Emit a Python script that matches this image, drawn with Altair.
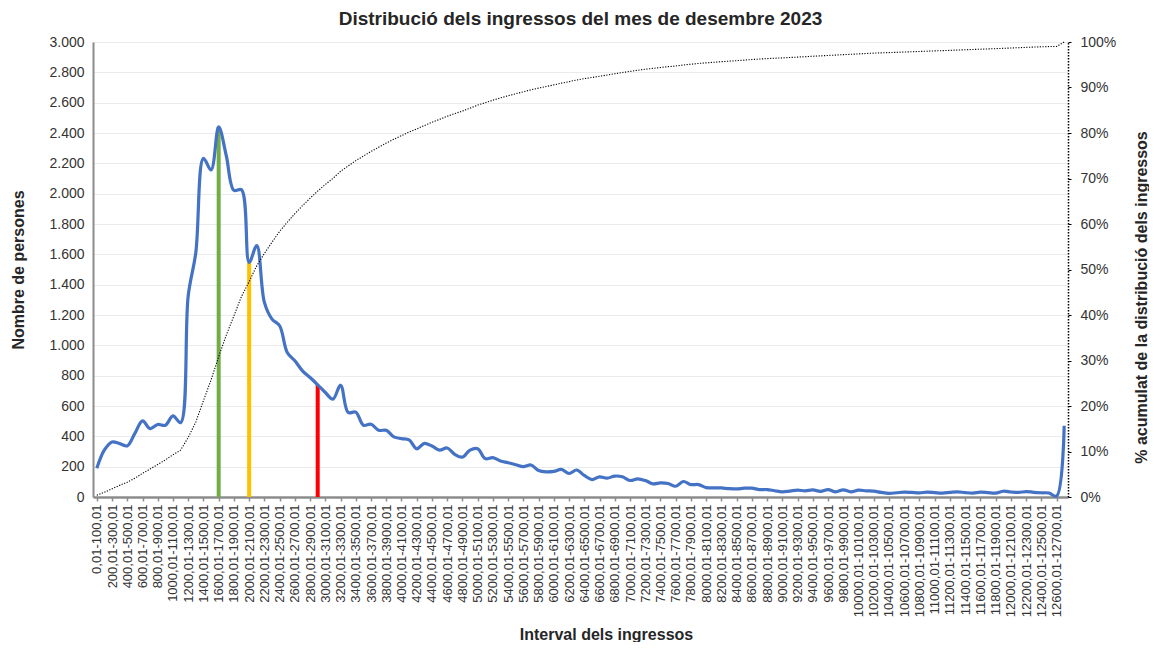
import altair as alt
import pandas as pd

# income intervals (100 € each) plus the open last interval
starts = list(range(0, 12700, 100))
categories = [f"{s},01-{s + 100},01" for s in starts] + ["Més de 12700,01"]

# number of persons per interval
persons = [
    190, 310, 363, 352, 337, 420, 502, 451, 478, 473,
    535, 490, 1327, 1613, 2233, 2156, 2440, 2250, 2022, 2026,
    1547, 1657, 1283, 1173, 1129, 953, 898, 832, 788, 740,
    689, 645, 737, 557, 560, 473, 480, 440, 440, 396,
    385, 376, 318, 354, 336, 309, 323, 281, 263, 309,
    318, 253, 260, 237, 226, 213, 200, 211, 175, 166,
    169, 182, 155, 178, 142, 115, 133, 124, 138, 133,
    109, 120, 109, 87, 93, 89, 71, 102, 82, 82,
    62, 60, 60, 55, 53, 58, 58, 49, 49, 41,
    34, 39, 45, 41, 47, 37, 49, 34, 47, 34,
    45, 41, 39, 30, 24, 28, 32, 30, 27, 32,
    29, 26, 30, 34, 29, 26, 32, 29, 26, 38,
    33, 30, 36, 31, 28, 26, 6, 470,
]

# highlighted intervals (vertical bars)
marker_intervals = ["1600,01-1700,01", "2000,01-2100,01", "2900,01-3000,01"]
marker_colors = ["#70AD47", "#FFC000", "#FF0000"]

title_text = "Distribució dels ingressos del mes de desembre 2023"
y_left_title = "Nombre de persones"
y_right_title = "% acumulat de la distribució  dels ingressos"
x_title = "Interval dels ingressos"

FONT = "Liberation Sans"

df = pd.DataFrame({"interval": categories, "persones": persons, "ordre": list(range(len(categories)))})
lookup = dict(zip(categories, persons))
df_marks = pd.DataFrame({
    "interval": marker_intervals,
    "persones": [lookup[c] for c in marker_intervals],
    "color": marker_colors,
})

x_enc = alt.X(
    "interval:O",
    sort=categories,
    scale=alt.Scale(type="point", domain=categories, padding=0.5),
    axis=alt.Axis(
        values=categories[::2],
        labelAngle=270,
        labelFontSize=13,
        labelColor="#333333",
        labelFont=FONT,
        labelOverlap=False,
        labelPadding=3,
        domainColor="#8C8C8C",
        domainWidth=2.5,
        ticks=True,
        tickColor="#8C8C8C",
        tickSize=4,
        tickWidth=1.5,
        grid=False,
        title=x_title,
        titleFont=FONT,
        titleFontSize=16,
        titleFontWeight="bold",
        titleColor="#262626",
        titleX=513,
        titleY=137,
        titleBaseline="middle",
        titleAlign="center",
    ),
)

y_enc = alt.Y(
    "persones:Q",
    scale=alt.Scale(domain=[0, 3000], nice=False),
    axis=alt.Axis(
        values=list(range(0, 3001, 200)),
        labelExpr="replace(format(datum.value, ','), ',', '.')",
        labelFontSize=14,
        labelColor="#333333",
        labelFont=FONT,
        labelPadding=9,
        ticks=False,
        domainColor="#8C8C8C",
        domainWidth=2,
        grid=True,
        gridColor="#EBEBEB",
        gridWidth=1,
        title=y_left_title,
        titleFont=FONT,
        titleFontSize=16,
        titleFontWeight="bold",
        titleColor="#262626",
        titleAngle=270,
        titleX=-75,
        titleY=227.5,
        titleBaseline="middle",
        titleAlign="center",
    ),
)

rules = alt.Chart(df_marks).mark_rule(strokeWidth=4).encode(
    x=x_enc,
    y=y_enc,
    y2=alt.datum(0),
    color=alt.Color("color:N", scale=None),
)

line = alt.Chart(df).mark_line(color="#4472C4", strokeWidth=3.2, interpolate="catmull-rom").encode(
    x=x_enc,
    y=y_enc,
)

cum = (
    alt.Chart(df)
    .transform_window(acum="sum(persones)", sort=[alt.SortField("ordre")], frame=[None, 0])
    .transform_joinaggregate(total="sum(persones)")
    .transform_calculate(pct="datum.acum / datum.total")
    .mark_line(color="#000000", strokeWidth=1.1, strokeDash=[1.2, 1.5])
    .encode(
        x=x_enc,
        y=alt.Y(
            "pct:Q",
            scale=alt.Scale(domain=[0, 1], nice=False),
            axis=alt.Axis(
                orient="right",
                values=[i / 10 for i in range(11)],
                format=".0%",
                labelFontSize=14,
                labelColor="#333333",
                labelFont=FONT,
                labelPadding=9,
                ticks=True,
                tickSize=3,
                tickColor="#000000",
                domainColor="#000000",
                domainWidth=1.5,
                domainDash=[1.5, 1.5],
                grid=False,
                title=y_right_title,
                titleFont=FONT,
                titleFontSize=16,
                titleFontWeight="bold",
                titleColor="#262626",
                titleAngle=270,
                titleX=73,
                titleY=255,
                titleBaseline="middle",
                titleAlign="center",
            ),
        ),
    )
)

left = alt.layer(rules, line)
chart = (
    alt.layer(left, cum)
    .resolve_scale(y="independent")
    .properties(
        width=975,
        height=455,
        autosize=alt.AutoSizeParams(type="none"),
        padding={"left": 85, "top": 34, "right": 81, "bottom": 145},
        title=alt.TitleParams(
            text=title_text,
            font=FONT,
            fontSize=19,
            fontWeight="bold",
            color="#262626",
            anchor="middle",
            offset=6,
        ),
    )
    .configure_view(stroke=None)
)

chart.save("out.html", embed_options={"renderer": "svg", "actions": False})
